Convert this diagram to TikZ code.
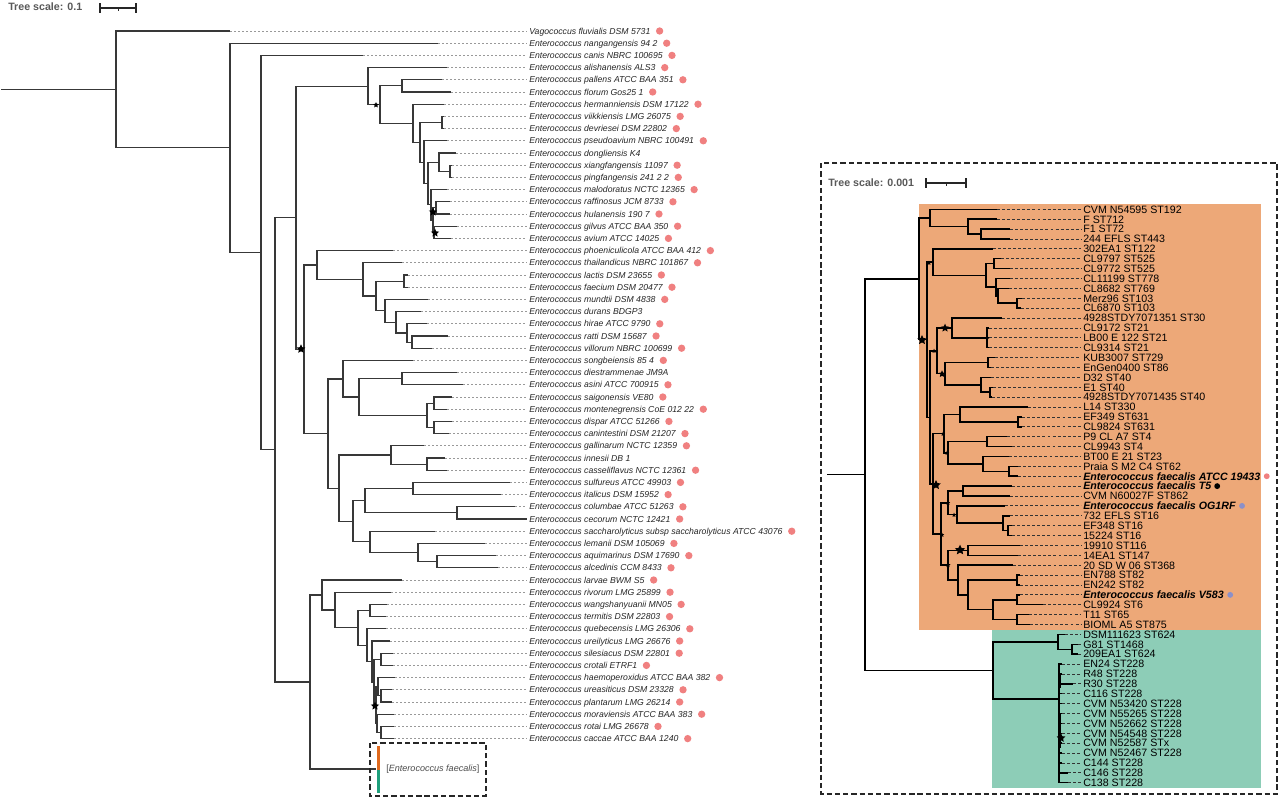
\documentclass[tikz,border=0pt]{standalone}
\usepackage{fontspec}
\setmainfont{Liberation Sans}
\usetikzlibrary{shapes.geometric}
\definecolor{salmon}{HTML}{F08080}
\definecolor{bluedot}{HTML}{8C90C8}
\definecolor{orangebg}{HTML}{EDA878}
\definecolor{tealbg}{HTML}{8DCDB7}
\definecolor{facorange}{HTML}{E06A1E}
\definecolor{facteal}{HTML}{1FA07C}
\tikzset{
  br/.style={draw=black!78, line width=0.85pt},
  rbr/.style={draw=black, line width=1.1pt},
  ldash/.style={draw=black!40, line width=0.5pt, dash pattern=on 1.5pt off 1.5pt},
  rdash/.style={draw=black!80, line width=0.6pt, dash pattern=on 2.2pt off 1.6pt},
  llab/.style={anchor=west, inner sep=0pt, text height=4.65pt, text depth=0pt, font=\fontsize{6.5}{7}\selectfont\itshape, text=black!85},
  rlab/.style={anchor=west, inner sep=0pt, text height=5.73pt, text depth=0pt, font=\fontsize{8}{8}\selectfont, text=black},
  sdot/.style={circle, fill=salmon, inner sep=0pt, minimum size=5.5pt},
  rdot/.style={circle, inner sep=0pt, minimum size=4.4pt},
  starn/.style={star, star points=5, star point ratio=2.1, fill=black, draw=none, inner sep=0pt, minimum size=#1},
  tscale/.style={anchor=west, inner sep=0pt, font=\fontsize{8}{8}\selectfont\bfseries, text=black!65},
  boxd/.style={draw=black!85, line width=1.1pt, dash pattern=on 4pt off 2.2pt}
}
\newcommand\clade[4][br]{\draw[#1] (#3) -| (#2) |- (#4);}
\newcommand\lleaf[4]{%
  \coordinate (lt#1) at (#2,{31+(#1-1)*12.2});
  \node[llab] (ln#1) at (529,{31+(#1-1)*12.2}) {#3};
  \draw[ldash] (lt#1) -- ([xshift=-1.5pt]ln#1.west);
  \ifnum#4=1 \node[sdot] (ld#1) at ([xshift=6.75pt]ln#1.east) {};\fi}
\newcommand\rleaf[3]{%
  \coordinate (rt#1) at (#2,{209.3+(#1-1)*9.886});
  \node[rlab] (rn#1) at (1083,{209.3+(#1-1)*9.886}) {#3};
  \draw[rdash] (rt#1) -- ([xshift=-1.5pt]rn#1.west);}
\begin{document}
\begin{tikzpicture}[x=0.75pt,y=-0.75pt]
\useasboundingbox (0,0) rectangle (1280,799);
\fill[white] (0,0) rectangle (1280,799);

% ---------- scale bars ----------
\node[tscale] (ts1) at (8,7) {Tree scale: 0.1};
\coordinate (sa1) at (100,8); \coordinate (sa2) at (136,8); \coordinate (sa3) at (118,8);
\draw[line width=1.5pt, black!85] (sa1) -- (sa2);
\draw[line width=0.9pt, black!85] ([yshift=3.5pt]sa1) -- ([yshift=-3.5pt]sa1);
\draw[line width=0.9pt, black!85] ([yshift=3.5pt]sa2) -- ([yshift=-3.5pt]sa2);
\draw[line width=0.6pt, black!85] (sa3) -- ([yshift=-2.5pt]sa3);

% ---------- left tree ----------
\coordinate (aroot) at (1,89.5);
\coordinate (aR) at (116,89.5);
\coordinate (aA) at (230,147.9);
\coordinate (aB) at (261,252.6);
\coordinate (aC) at (275,449.9);
\coordinate (aD) at (296,217.7);
\coordinate (aE) at (368,86.1);
\coordinate (aG) at (380,104.6);
\coordinate (aH) at (402,85.9);
\coordinate (aI) at (413,123.3);
\coordinate (aJ) at (420,142.3);
\coordinate (aK) at (442,122.5);
\coordinate (aLq) at (424,162.2);
\coordinate (aM) at (428,183.5);
\coordinate (aN) at (439,162.2);
\coordinate (aP) at (450,171.3);
\coordinate (aO) at (431,204.9);
\coordinate (aQ) at (433,220.1);
\coordinate (aRn) at (436,207.9);
\coordinate (aS) at (434,232.3);
\coordinate (aF) at (304,349.3);
\coordinate (aT) at (317,265);
\coordinate (aV) at (363,279.4);
\coordinate (aW) at (376,296);
\coordinate (aW1) at (404,281.1);
\coordinate (aX) at (385,310.9);
\coordinate (aY) at (396,322.3);
\coordinate (aZ) at (407,333);
\coordinate (aAA) at (412,342.1);
\coordinate (aU) at (328,433.6);
\coordinate (aBB) at (343,379);
\coordinate (aCC) at (359,397);
\coordinate (aDD) at (402,378.7);
\coordinate (aEE) at (427,415.3);
\coordinate (aFF) at (434,403.1);
\coordinate (aGG) at (434,427.5);
\coordinate (aHH) at (339,488.2);
\coordinate (aII) at (391,455);
\coordinate (aKK) at (427,464.1);
\coordinate (aJJ) at (353,521.3);
\coordinate (aLL) at (365,500.7);
\coordinate (aNN) at (413,488.5);
\coordinate (aOO) at (457,512.9);
\coordinate (aMM) at (370,541.9);
\coordinate (aPP) at (418,552.6);
\coordinate (aQQ) at (437,561.7);
\coordinate (aRR) at (310,682);
\coordinate (afae) at (376,769);
\coordinate (aSS) at (322,595);
\coordinate (aTT) at (335,610);
\coordinate (aUU) at (358,627.9);
\coordinate (aVV) at (370,610.5);
\coordinate (aWW) at (367,645.2);
\coordinate (aXX) at (372,661.6);
\coordinate (aYY) at (374,682.2);
\coordinate (aZ1) at (381,659.3);
\coordinate (aZ2) at (376,705.1);
\coordinate (aZ3) at (378,686.8);
\coordinate (aZ4) at (381,695.9);
\coordinate (aZ5) at (377,723.4);
\coordinate (aZ6) at (381,732.5);

\lleaf{1}{230}{Vagococcus fluvialis DSM 5731}{1}
\lleaf{2}{438}{Enterococcus nangangensis 94 2}{1}
\lleaf{3}{363}{Enterococcus canis NBRC 100695}{1}
\lleaf{4}{447}{Enterococcus alishanensis ALS3}{1}
\lleaf{5}{442}{Enterococcus pallens ATCC BAA 351}{1}
\lleaf{6}{451}{Enterococcus florum Gos25 1}{1}
\lleaf{7}{444}{Enterococcus hermanniensis DSM 17122}{1}
\lleaf{8}{444}{Enterococcus viikkiensis LMG 26075}{1}
\lleaf{9}{444}{Enterococcus devriesei DSM 22802}{1}
\lleaf{10}{447}{Enterococcus pseudoavium NBRC 100491}{1}
\lleaf{11}{456}{Enterococcus dongliensis K4}{0}
\lleaf{12}{452}{Enterococcus xiangfangensis 11097}{1}
\lleaf{13}{452}{Enterococcus pingfangensis 241 2 2}{1}
\lleaf{14}{447}{Enterococcus malodoratus NCTC 12365}{1}
\lleaf{15}{450}{Enterococcus raffinosus JCM 8733}{1}
\lleaf{16}{450}{Enterococcus hulanensis 190 7}{1}
\lleaf{17}{457}{Enterococcus gilvus ATCC BAA 350}{1}
\lleaf{18}{451}{Enterococcus avium ATCC 14025}{1}
\lleaf{19}{393}{Enterococcus phoeniculicola ATCC BAA 412}{1}
\lleaf{20}{402}{Enterococcus thailandicus NBRC 101867}{1}
\lleaf{21}{408}{Enterococcus lactis DSM 23655}{1}
\lleaf{22}{408}{Enterococcus faecium DSM 20477}{1}
\lleaf{23}{428}{Enterococcus mundtii DSM 4838}{1}
\lleaf{24}{421}{Enterococcus durans BDGP3}{0}
\lleaf{25}{427}{Enterococcus hirae ATCC 9790}{1}
\lleaf{26}{448}{Enterococcus ratti DSM 15687}{1}
\lleaf{27}{432}{Enterococcus villorum NBRC 100699}{1}
\lleaf{28}{413}{Enterococcus songbeiensis 85 4}{1}
\lleaf{29}{457}{Enterococcus diestrammenae JM9A}{0}
\lleaf{30}{463}{Enterococcus asini ATCC 700915}{1}
\lleaf{31}{452}{Enterococcus saigonensis VE80}{1}
\lleaf{32}{447}{Enterococcus montenegrensis CoE 012 22}{1}
\lleaf{33}{452}{Enterococcus dispar ATCC 51266}{1}
\lleaf{34}{449}{Enterococcus canintestini DSM 21207}{1}
\lleaf{35}{424}{Enterococcus gallinarum NCTC 12359}{1}
\lleaf{36}{445}{Enterococcus innesii DB 1}{0}
\lleaf{37}{447}{Enterococcus casseliflavus NCTC 12361}{1}
\lleaf{38}{510}{Enterococcus sulfureus ATCC 49903}{1}
\lleaf{39}{501}{Enterococcus italicus DSM 15952}{1}
\lleaf{40}{515}{Enterococcus columbae ATCC 51263}{1}
\lleaf{41}{527}{Enterococcus cecorum NCTC 12421}{1}
\lleaf{42}{435}{Enterococcus saccharolyticus subsp saccharolyticus ATCC 43076}{1}
\lleaf{43}{485}{Enterococcus lemanii DSM 105069}{1}
\lleaf{44}{496}{Enterococcus aquimarinus DSM 17690}{1}
\lleaf{45}{498}{Enterococcus alcedinis CCM 8433}{1}
\lleaf{46}{402}{Enterococcus larvae BWM S5}{1}
\lleaf{47}{391}{Enterococcus rivorum LMG 25899}{1}
\lleaf{48}{387}{Enterococcus wangshanyuanii MN05}{1}
\lleaf{49}{386}{Enterococcus termitis DSM 22803}{1}
\lleaf{50}{386}{Enterococcus quebecensis LMG 26306}{1}
\lleaf{51}{390}{Enterococcus ureilyticus LMG 26676}{1}
\lleaf{52}{393}{Enterococcus silesiacus DSM 22801}{1}
\lleaf{53}{393}{Enterococcus crotali ETRF1}{1}
\lleaf{54}{395}{Enterococcus haemoperoxidus ATCC BAA 382}{1}
\lleaf{55}{392}{Enterococcus ureasiticus DSM 23328}{1}
\lleaf{56}{392}{Enterococcus plantarum LMG 26214}{1}
\lleaf{57}{394}{Enterococcus moraviensis ATCC BAA 383}{1}
\lleaf{58}{394}{Enterococcus rotai LMG 26678}{1}
\lleaf{59}{394}{Enterococcus caccae ATCC BAA 1240}{1}

\draw[br] (aroot) -- (aR);
\clade{aR}{lt1}{aA}
\clade{aA}{lt2}{aB}
\clade{aB}{lt3}{aC}
\clade{aC}{aD}{aRR}
\clade{aD}{aE}{aF}
\clade{aE}{lt4}{aG}
\clade{aG}{aH}{aI}
\clade{aH}{lt5}{lt6}
\clade{aI}{lt7}{aJ}
\clade{aJ}{aK}{aLq}
\clade{aK}{lt8}{lt9}
\clade{aLq}{lt10}{aM}
\clade{aM}{aN}{aO}
\clade{aN}{lt11}{aP}
\clade{aP}{lt12}{lt13}
\clade{aO}{lt14}{aQ}
\clade{aQ}{aRn}{aS}
\clade{aRn}{lt15}{lt16}
\clade{aS}{lt17}{lt18}
\clade{aF}{aT}{aU}
\clade{aT}{lt19}{aV}
\clade{aV}{lt20}{aW}
\clade{aW}{aW1}{aX}
\clade{aW1}{lt21}{lt22}
\clade{aX}{lt23}{aY}
\clade{aY}{lt24}{aZ}
\clade{aZ}{lt25}{aAA}
\clade{aAA}{lt26}{lt27}
\clade{aU}{aBB}{aHH}
\clade{aBB}{lt28}{aCC}
\clade{aCC}{aDD}{aEE}
\clade{aDD}{lt29}{lt30}
\clade{aEE}{aFF}{aGG}
\clade{aFF}{lt31}{lt32}
\clade{aGG}{lt33}{lt34}
\clade{aHH}{aII}{aJJ}
\clade{aII}{lt35}{aKK}
\clade{aKK}{lt36}{lt37}
\clade{aJJ}{aLL}{aMM}
\clade{aLL}{aNN}{aOO}
\clade{aNN}{lt38}{lt39}
\clade{aOO}{lt40}{lt41}
\clade{aMM}{lt42}{aPP}
\clade{aPP}{lt43}{aQQ}
\clade{aQQ}{lt44}{lt45}
\clade{aRR}{aSS}{afae}
\clade{aSS}{lt46}{aTT}
\clade{aTT}{lt47}{aUU}
\clade{aUU}{aVV}{aWW}
\clade{aVV}{lt48}{lt49}
\clade{aWW}{lt50}{aXX}
\clade{aXX}{lt51}{aYY}
\clade{aYY}{aZ1}{aZ2}
\clade{aZ1}{lt52}{lt53}
\clade{aZ2}{aZ3}{aZ5}
\clade{aZ3}{lt54}{aZ4}
\clade{aZ4}{lt55}{lt56}
\clade{aZ5}{lt57}{aZ6}
\clade{aZ6}{lt58}{lt59}

\node[starn=4.5pt] (as1) at (376,105) {};
\node[starn=7pt] (as2) at (301,349) {};
\node[starn=6.5pt] (as3) at (433,212) {};
\node[starn=6.5pt] (as4) at (435,233) {};
\node[starn=6.5pt] (as5) at (375,706) {};

% collapsed E. faecalis
\fill[facorange] (376.5,746) rectangle (379.5,770);
\fill[facteal] (376.5,770) rectangle (379.5,793);
\draw[boxd] (370,743) rectangle (486,796);
\node[anchor=west, inner sep=0pt, font=\fontsize{6.8}{7}\selectfont, text=black!70] (faetxt) at (386,769) {[\textit{Enterococcus faecalis}]};

% ---------- right panel ----------
\draw[boxd] (821,163) rectangle (1277,794);
\node[tscale] (ts2) at (828,183) {Tree scale: 0.001};
\coordinate (sb1) at (926,183); \coordinate (sb2) at (966,183); \coordinate (sb3) at (946,183);
\draw[line width=1.5pt, black!85] (sb1) -- (sb2);
\draw[line width=0.9pt, black!85] ([yshift=3.5pt]sb1) -- ([yshift=-3.5pt]sb1);
\draw[line width=0.9pt, black!85] ([yshift=3.5pt]sb2) -- ([yshift=-3.5pt]sb2);
\draw[line width=0.6pt, black!85] (sb3) -- ([yshift=-2.5pt]sb3);

\fill[orangebg] (919,204) rectangle (1261,630);
\fill[tealbg] (992,630) rectangle (1261,788);

\coordinate (brs) at (827,474.7);
\coordinate (bRT) at (865,474.7);
\coordinate (bO0) at (919,278.9);
\coordinate (bO1) at (930,218);
\coordinate (bA1) at (968,226.6);
\coordinate (bA2) at (981,234.0);
\coordinate (bO2) at (927,339.7);
\coordinate (bB1) at (933,262.1);
\coordinate (bB2) at (986,275.4);
\coordinate (bB3) at (994,263.7);
\coordinate (bB4) at (996,287.1);
\coordinate (bB5) at (998,295.8);
\coordinate (bB6) at (1017,303.2);
\coordinate (bO3) at (930,417.3);
\coordinate (bC0) at (937,350.8);
\coordinate (bC1) at (952,327.9);
\coordinate (bC2) at (987,337.8);
\coordinate (bC3) at (945,373.7);
\coordinate (bC4) at (988,362.5);
\coordinate (bC6) at (981,384.8);
\coordinate (bC5) at (990,392.2);
\coordinate (bO4) at (933,483.8);
\coordinate (bD0) at (944,433.6);
\coordinate (bD1) at (960,414.4);
\coordinate (bD1a) at (1018,421.9);
\coordinate (bD2) at (948,452.8);
\coordinate (bD2a) at (987,441.6);
\coordinate (bD2b) at (983,463.9);
\coordinate (bD2c) at (1009,471.3);
\coordinate (bE0) at (941,534);
\coordinate (bF0) at (948,502.8);
\coordinate (bF1) at (963,491.1);
\coordinate (bF2) at (957,514.5);
\coordinate (bF2a) at (1003,523.2);
\coordinate (bF2b) at (1008,530.6);
\coordinate (bG0) at (948,565.2);
\coordinate (bG1) at (968,550.4);
\coordinate (bG2) at (958,580.1);
\coordinate (bG3) at (968,594.9);
\coordinate (bG3a) at (1017,580.1);
\coordinate (bG4) at (993,609.7);
\coordinate (bG4a) at (1017,599.8);
\coordinate (bG4b) at (1017,619.6);
\coordinate (bT0) at (993,670.5);
\coordinate (bT1) at (1058,641.9);
\coordinate (bT1a) at (1072,649.3);
\coordinate (bT2) at (1059,699);

\rleaf{1}{997}{CVM N54595 ST192}
\rleaf{2}{997}{F ST712}
\rleaf{3}{1010}{F1 ST72}
\rleaf{4}{1010}{244 EFLS ST443}
\rleaf{5}{993}{302EA1 ST122}
\rleaf{6}{1001}{CL9797 ST525}
\rleaf{7}{1010}{CL9772 ST525}
\rleaf{8}{1010}{CL11199 ST778}
\rleaf{9}{1009}{CL8682 ST769}
\rleaf{10}{1022}{Merz96 ST103}
\rleaf{11}{1021}{CL6870 ST103}
\rleaf{12}{1002}{4928STDY7071351 ST30}
\rleaf{13}{989}{CL9172 ST21}
\rleaf{14}{989}{LB00 E 122 ST21}
\rleaf{15}{989}{CL9314 ST21}
\rleaf{16}{995}{KUB3007 ST729}
\rleaf{17}{991}{EnGen0400 ST86}
\rleaf{18}{991}{D32 ST40}
\rleaf{19}{993}{E1 ST40}
\rleaf{20}{992}{4928STDY7071435 ST40}
\rleaf{21}{1028}{L14 ST330}
\rleaf{22}{1022}{EF349 ST631}
\rleaf{23}{1022}{CL9824 ST631}
\rleaf{24}{1007}{P9 CL A7 ST4}
\rleaf{25}{1012}{CL9943 ST4}
\rleaf{26}{1009}{BT00 E 21 ST23}
\rleaf{27}{1018}{Praia S M2 C4 ST62}
\rleaf{28}{1018}{{\bfseries\itshape Enterococcus faecalis ATCC 19433}}
\rleaf{29}{1012}{{\bfseries\itshape Enterococcus faecalis T5}}
\rleaf{30}{1010}{CVM N60027F ST862}
\rleaf{31}{1005}{{\bfseries\itshape Enterococcus faecalis OG1RF}}
\rleaf{32}{1010}{732 EFLS ST16}
\rleaf{33}{1012}{EF348 ST16}
\rleaf{34}{1012}{15224 ST16}
\rleaf{35}{1020}{19910 ST116}
\rleaf{36}{1018}{14EA1 ST147}
\rleaf{37}{1013}{20 SD W 06 ST368}
\rleaf{38}{1020}{EN788 ST82}
\rleaf{39}{1020}{EN242 ST82}
\rleaf{40}{1020}{{\bfseries\itshape Enterococcus faecalis V583}}
\rleaf{41}{1043}{CL9924 ST6}
\rleaf{42}{1029}{T11 ST65}
\rleaf{43}{1030}{BIOML A5 ST875}
\rleaf{44}{1065}{DSM111623 ST624}
\rleaf{45}{1078}{G81 ST1468}
\rleaf{46}{1078}{209EA1 ST624}
\rleaf{47}{1062}{EN24 ST228}
\rleaf{48}{1062}{R48 ST228}
\rleaf{49}{1073}{R30 ST228}
\rleaf{50}{1062}{C116 ST228}
\rleaf{51}{1062}{CVM N53420 ST228}
\rleaf{52}{1062}{CVM N55265 ST228}
\rleaf{53}{1062}{CVM N52662 ST228}
\rleaf{54}{1062}{CVM N54548 ST228}
\rleaf{55}{1062}{CVM N52587 STx}
\rleaf{56}{1062}{CVM N52467 ST228}
\rleaf{57}{1062}{C144 ST228}
\rleaf{58}{1068}{C146 ST228}
\rleaf{59}{1068}{C138 ST228}

\node[rdot, fill=salmon] (rd28) at ([xshift=4.6pt]rn28.east) {};
\node[rdot, fill=black] (rd29) at ([xshift=4.2pt]rn29.east) {};
\node[rdot, fill=bluedot] (rd31) at ([xshift=4.6pt]rn31.east) {};
\node[rdot, fill=bluedot] (rd40) at ([xshift=4.6pt]rn40.east) {};

\draw[rbr] (brs) -- (bRT);
\clade[rbr]{bRT}{bO0}{bT0}
\clade[rbr]{bO0}{bO1}{bO2}
\clade[rbr]{bO1}{rt1}{bA1}
\clade[rbr]{bA1}{rt2}{bA2}
\clade[rbr]{bA2}{rt3}{rt4}
\clade[rbr]{bO2}{bB1}{bO3}
\clade[rbr]{bB1}{rt5}{bB2}
\clade[rbr]{bB2}{bB3}{bB4}
\clade[rbr]{bB3}{rt6}{rt7}
\clade[rbr]{bB4}{rt8}{bB5}
\clade[rbr]{bB5}{rt9}{bB6}
\clade[rbr]{bB6}{rt10}{rt11}
\clade[rbr]{bO3}{bC0}{bO4}
\clade[rbr]{bC0}{bC1}{bC3}
\clade[rbr]{bC1}{rt12}{bC2}
\clade[rbr]{bC2}{rt13}{rt15}
\draw[rbr] (bC2) -- (rt14);
\clade[rbr]{bC3}{bC4}{bC6}
\clade[rbr]{bC4}{rt16}{rt17}
\clade[rbr]{bC6}{rt18}{bC5}
\clade[rbr]{bC5}{rt19}{rt20}
\clade[rbr]{bO4}{bD0}{bE0}
\clade[rbr]{bD0}{bD1}{bD2}
\clade[rbr]{bD1}{rt21}{bD1a}
\clade[rbr]{bD1a}{rt22}{rt23}
\clade[rbr]{bD2}{bD2a}{bD2b}
\clade[rbr]{bD2a}{rt24}{rt25}
\clade[rbr]{bD2b}{rt26}{bD2c}
\clade[rbr]{bD2c}{rt27}{rt28}
\clade[rbr]{bE0}{bF0}{bG0}
\clade[rbr]{bF0}{bF1}{bF2}
\clade[rbr]{bF1}{rt29}{rt30}
\clade[rbr]{bF2}{rt31}{bF2a}
\clade[rbr]{bF2a}{rt32}{bF2b}
\clade[rbr]{bF2b}{rt33}{rt34}
\clade[rbr]{bG0}{bG1}{bG2}
\clade[rbr]{bG1}{rt35}{rt36}
\clade[rbr]{bG2}{rt37}{bG3}
\clade[rbr]{bG3}{bG3a}{bG4}
\clade[rbr]{bG3a}{rt38}{rt39}
\clade[rbr]{bG4}{bG4a}{bG4b}
\clade[rbr]{bG4a}{rt40}{rt41}
\clade[rbr]{bG4b}{rt42}{rt43}
\clade[rbr]{bT0}{bT1}{bT2}
\clade[rbr]{bT1}{rt44}{bT1a}
\clade[rbr]{bT1a}{rt45}{rt46}
\clade[rbr]{bT2}{rt47}{rt59}
\foreach \k in {48,...,58} {\draw[rbr] (bT2) |- (rt\k);}
\draw[rbr, line width=2.2pt] (1060,674) -- (1060,688);
\draw[rbr, line width=2.2pt] (1060,713) -- (1060,748);

\node[starn=7.5pt] (bs1) at (922,340) {};
\node[starn=6.5pt] (bs2) at (945,328) {};
\node[starn=5.5pt] (bs3) at (942,374) {};
\node[starn=7.5pt] (bs4) at (936,485) {};
\node[starn=8pt] (bs5) at (960,550) {};
\node[starn=3.5pt] (bs6) at (929,263) {};
\node[starn=3.5pt] (bs7) at (934,351) {};
\node[starn=3.5pt] (bs8) at (943,434) {};
\node[starn=3.5pt] (bs9) at (947,453) {};
\node[starn=3.5pt] (bs10) at (948,503) {};
\node[starn=3.5pt] (bs11) at (954,515) {};
\node[starn=3.5pt] (bs12) at (942,535) {};
\node[starn=4pt] (bs13) at (948,565) {};
\node[starn=7pt] (bs14) at (1061,738) {};
\end{tikzpicture}
\end{document}
